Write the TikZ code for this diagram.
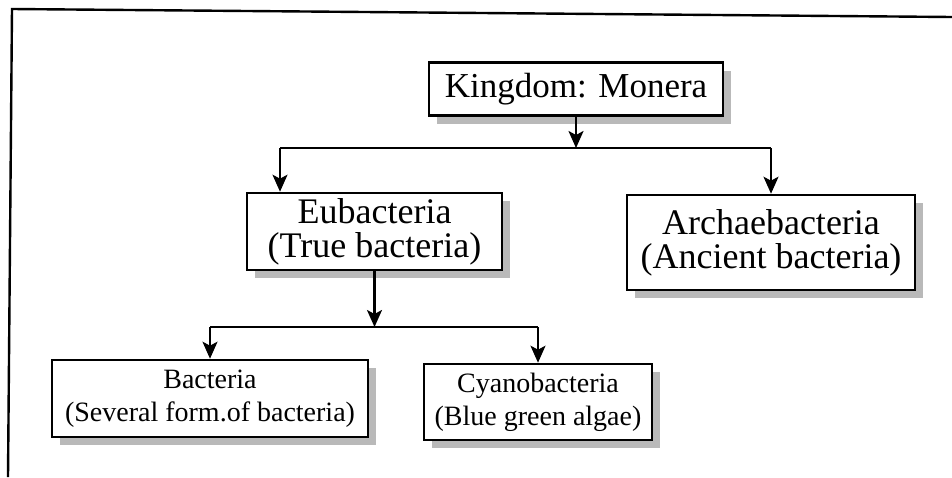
\documentclass[tikz,border=0pt]{standalone}
\usepackage{fontspec}
\setmainfont{Liberation Serif}
\usetikzlibrary{arrows.meta, shadows}

\begin{document}
\begin{tikzpicture}[x=0.5pt, y=-0.5pt]
\useasboundingbox (0,0) rectangle (952,477);
% outer frame (top and left only)
\coordinate (f1) at (12,9);
\coordinate (f2) at (952,17);
\coordinate (f3) at (8,477);
\draw[line width=1.2pt] (f3) -- (f1) -- (f2);

\begin{scope}[every node/.style={rectangle, draw=black, line width=1.3pt, fill=white, align=center, inner sep=0pt,
              drop shadow={shadow xshift=4pt, shadow yshift=-4pt, fill=gray!55, opacity=1}}]
  \node[minimum width=147pt, minimum height=26.5pt, font=\fontsize{17.5}{17}\selectfont] (M) at (576,89) {Kingdom: Monera};
  \node[minimum width=127.5pt, minimum height=38.5pt, font=\fontsize{18}{17}\selectfont] (E) at (374.5,231.5) {Eubacteria\\(True bacteria)};
  \node[minimum width=144pt, minimum height=47.5pt, font=\fontsize{18}{17}\selectfont] (A) at (771,242.5) {Archaebacteria\\(Ancient bacteria)};
  \node[minimum width=158pt, minimum height=38.5pt, font=\fontsize{14}{16.5}\selectfont] (B) at (210,398.5) {Bacteria\\(Several form.of bacteria)};
  \node[minimum width=114pt, minimum height=38pt, font=\fontsize{14}{16.5}\selectfont] (C) at (538,402) {Cyanobacteria\\(Blue green algae)};
\end{scope}

\coordinate (jL) at (280,148);
\coordinate (jR) at (771,148);
\coordinate (kL) at (210,327);
\coordinate (kR) at (538,327);

\begin{scope}[>={Stealth[length=8.5pt, width=7.5pt, inset=2pt]}, line width=1.1pt]
    \draw (jL) -- (jR);
    \draw[->] (M) -- (M |- jL);
    \draw[->] (jL) -- (jL |- E.north);
    \draw[->] (jR) -- (A);
    \draw (kL) -- (kR);
    \draw[->] (E) -- (E |- kL);
    \draw[->] (kL) -- (B);
    \draw[->] (kR) -- (C);
\end{scope}

\end{tikzpicture}
\end{document}
